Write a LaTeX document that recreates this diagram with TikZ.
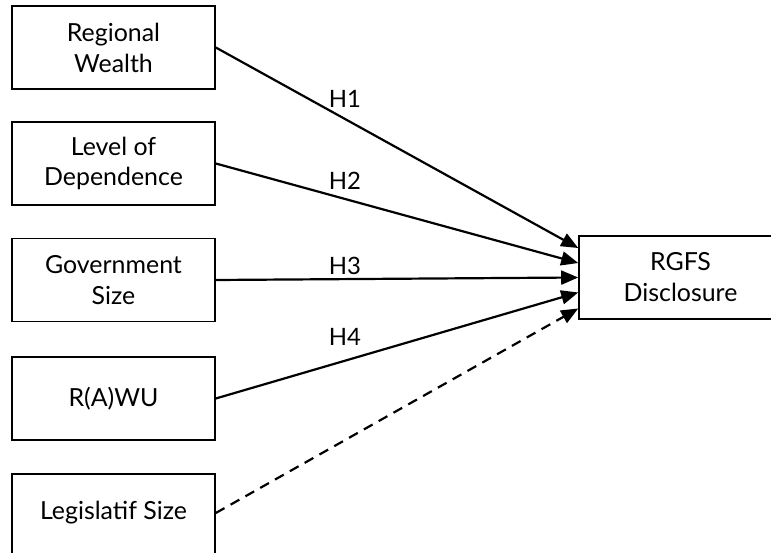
\documentclass[tikz,border=0pt]{standalone}
\usepackage{fontspec}
\setmainfont{Lato}
\usetikzlibrary{arrows.meta,calc}
\begin{document}
\begin{tikzpicture}[x=1bp,y=-1bp,
  box/.style={draw=black, line width=1.6bp, minimum width=203bp, minimum height=83bp, inner sep=0pt, align=center, font=\fontsize{25}{31}\selectfont},
  lbl/.style={font=\fontsize{24}{28}\selectfont, inner sep=0pt},
  arr/.style={line width=2.2bp, -{Triangle[length=17bp,width=14bp]}},
  darr/.style={arr, dash pattern=on 10bp off 7bp}]
\useasboundingbox (0,0) rectangle (771,553);
\clip (0,0) rectangle (771,553);
\node[box] (b1) at (113.5,47.5) {Regional\\Wealth};
\node[box] (b2) at (113.5,163.5) {Level of\\Dependence};
\node[box] (b3) at (113.5,280) {Government\\Size};
\node[box] (b4) at (113.5,398.5) {R(A)WU};
\node[box, anchor=north] (b5) at (113.5,473) {};
\node[font=\fontsize{25}{31}\selectfont, inner sep=0pt] (t5) at (113.5,513) {Legislatif Size};
\node[box] (rg) at (680.5,277.5) {RGFS\\Disclosure};
\coordinate (e1) at ($(rg.west)+(0,-29.5)$);
\coordinate (e2) at ($(rg.west)+(0,-14.5)$);
\coordinate (e3) at (rg.west);
\coordinate (e4) at ($(rg.west)+(0,15)$);
\coordinate (e5) at ($(rg.west)+(0,31)$);
\draw[arr] (b1.east) -- (e1);
\draw[arr] (b2.east) -- (e2);
\draw[arr] (b3.east) -- (e3);
\draw[arr] (b4.east) -- (e4);
\draw[darr] (t5 -| b5.east) -- (e5);
\node[lbl] (h1) at (345,99) {H1};
\node[lbl] (h2) at (345,181) {H2};
\node[lbl] (h3) at (345,266) {H3};
\node[lbl] (h4) at (345,337) {H4};
\end{tikzpicture}
\end{document}
